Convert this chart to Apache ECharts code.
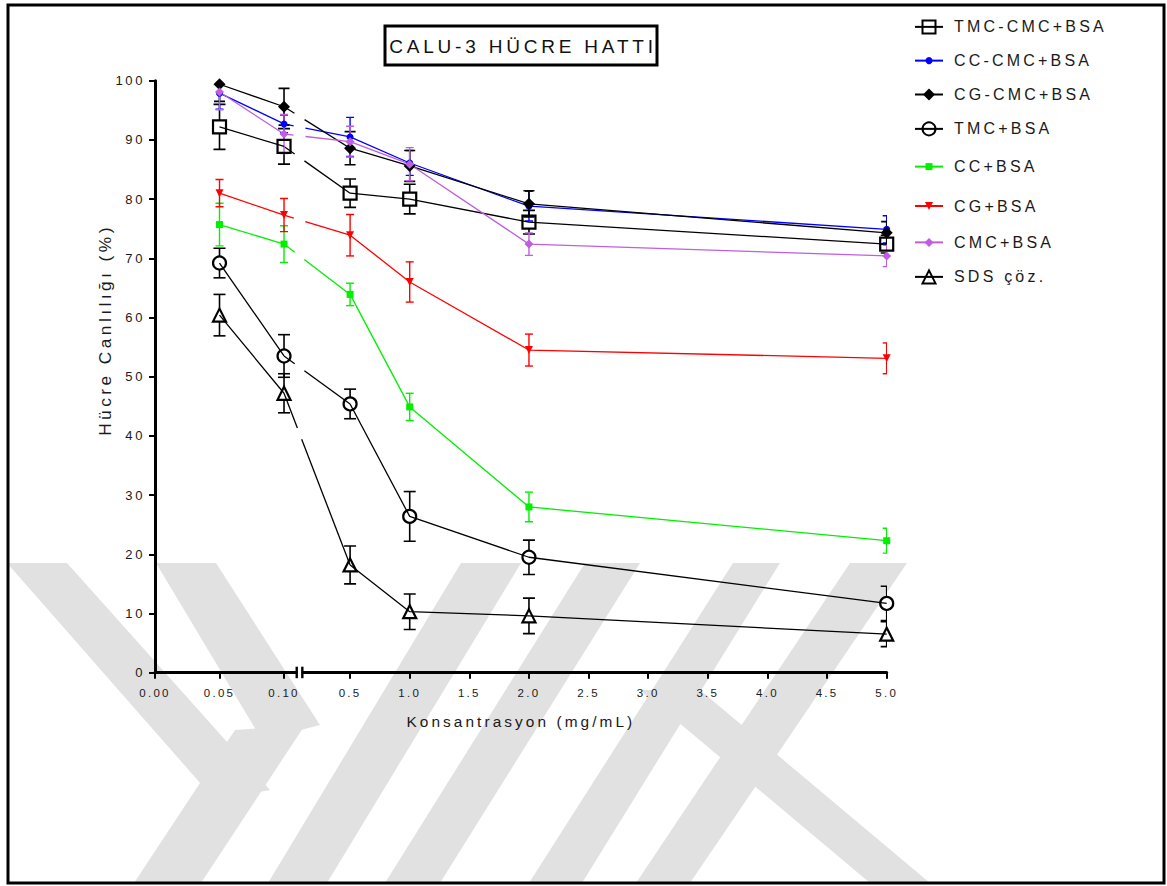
<!DOCTYPE html>
<html><head><meta charset="utf-8">
<script src="https://cdn.jsdelivr.net/npm/echarts@6/dist/echarts.min.js"></script>
<style>
html,body{margin:0;padding:0;background:#fff;}
#chart{width:1167px;height:886px;}
#chart svg text{letter-spacing:0.2em;}
</style></head><body><div id="chart"></div>
<script>
// ---- data ----
const concentrations = [0.05, 0.10, 0.5, 1.0, 2.0, 5.0];
const tickValues = [0, 0.05, 0.10, 0.5, 1.0, 1.5, 2.0, 2.5, 3.0, 3.5, 4.0, 4.5, 5.0];
const tickLabels = ['0.00','0.05','0.10','0.5','1.0','1.5','2.0','2.5','3.0','3.5','4.0','4.5','5.0'];
const seriesNames = ['TMC-CMC+BSA','CC-CMC+BSA','CG-CMC+BSA','TMC+BSA','CC+BSA','CG+BSA','CMC+BSA','SDS çöz.'];
const tmcCmcBsa   = [92.2, 88.9, 81.0, 80.0, 76.1, 72.4];
const tmcCmcBsaSd = [3.8, 3.0, 2.4, 2.5, 2.0, 1.5];
const ccCmcBsa    = [97.9, 92.7, 90.5, 86.1, 78.8, 74.9];
const ccCmcBsaSd  = [2.7, 1.5, 3.3, 2.1, 2.5, 2.3];
const cgCmcBsa    = [99.4, 95.6, 88.6, 85.6, 79.2, 74.3];
const cgCmcBsaSd  = [2.9, 3.1, 2.8, 2.6, 2.2, 1.9];
const tmcBsa      = [69.2, 53.5, 45.4, 26.4, 19.5, 11.7];
const tmcBsaSd    = [2.5, 3.6, 2.5, 4.2, 2.9, 2.9];
const ccBsa       = [75.7, 72.4, 63.9, 44.9, 28.0, 22.3];
const ccBsaSd     = [3.6, 3.1, 1.9, 2.3, 2.5, 2.1];
const cgBsa       = [81.0, 77.3, 73.9, 66.0, 54.5, 53.1];
const cgBsaSd     = [2.3, 2.8, 3.5, 3.4, 2.7, 2.6];
const cmcBsa      = [98.1, 91.0, 89.7, 85.9, 72.4, 70.4];
const cmcBsaSd    = [3.0, 3.3, 2.6, 2.8, 1.9, 1.8];
const sdsSol      = [60.4, 47.2, 18.2, 10.3, 9.6, 6.5];
const sdsSolSd    = [3.5, 3.3, 3.2, 3.0, 3.0, 2.1];

// ---- broken x scale (two segments with different spacing) ----
const SEG1_UNIT = 1.082;   // axis units per 0.05 in low segment
const SEG2_START = 3.272;  // axis position of 0.5
const BREAK_POS = 2.424;   // axis position of the break marks
function xPos(c){ return c <= 0.1 + 1e-9 ? c / 0.05 * SEG1_UNIT : SEG2_START + (c - 0.5) / 0.5; }
const X_MAX = xPos(5.0);
const LINE_GAP = 12;       // px gap in connecting lines at the break

// ---- styles ----
const styles = [
  {values: tmcCmcBsa, sd: tmcCmcBsaSd, color:'#000', symbol:'rect', size:13, fill:'rgba(0,0,0,0)', bw:2.2, rot:0, gap:6.5, cap:12, elw:1.6},
  {values: ccCmcBsa, sd: ccCmcBsaSd, color:'#0000ff', symbol:'circle', size:7, fill:'#0000ff', bw:0, rot:0, gap:0, cap:8, elw:1.4},
  {values: cgCmcBsa, sd: cgCmcBsaSd, color:'#000', symbol:'diamond', size:12, fill:'#000', bw:0, rot:0, gap:0, cap:11, elw:1.6},
  {values: tmcBsa, sd: tmcBsaSd, color:'#000', symbol:'circle', size:13, fill:'rgba(0,0,0,0)', bw:2.2, rot:0, gap:6.5, cap:12, elw:1.6},
  {values: ccBsa, sd: ccBsaSd, color:'#00f000', symbol:'rect', size:7, fill:'#00f000', bw:0, rot:0, gap:0, cap:8, elw:1.4},
  {values: cgBsa, sd: cgBsaSd, color:'#ff0000', symbol:'triangle', size:8, fill:'#ff0000', bw:0, rot:180, gap:0, cap:8, elw:1.4},
  {values: cmcBsa, sd: cmcBsaSd, color:'#bf5fe0', symbol:'diamond', size:9, fill:'#bf5fe0', bw:0, rot:0, gap:0, cap:8, elw:1.4},
  {values: sdsSol, sd: sdsSolSd, color:'#000', symbol:'triangle', size:13, fill:'rgba(0,0,0,0)', bw:2.2, rot:0, gap:6.5, cap:12, elw:1.6}
];
const legendCenters = [22, 52, 89, 124, 158, 198, 235, 272];

const chart = echarts.init(document.getElementById('chart'), null, {renderer:'svg'});
const FONT = 'Liberation Sans, Arial, sans-serif';
const TXT = '#1a1a1a';

const series = [];
styles.forEach((s, k) => {
  const pts = concentrations.map((c, i) => [xPos(c), s.values[i]]);
  // line broken at the axis break; the crossing is drawn by the bridge series
  const lineData = pts.slice(0, 2).concat([[BREAK_POS, '-']], pts.slice(2));
  series.push({
    name: seriesNames[k], type:'line', z: 3,
    data: lineData, connectNulls: false,
    symbol: s.symbol, symbolSize: s.size, symbolRotate: s.rot,
    showAllSymbol: true,
    lineStyle: {color: s.color, width: 1.3},
    itemStyle: {color: s.fill, borderColor: s.color, borderWidth: s.bw},
    emphasis: {disabled: true}, silent: true
  });
  series.push({
    name: 'bridge-' + k, type:'custom', z: 2, silent: true,
    data: [[pts[1][0], pts[1][1], pts[2][0], pts[2][1]]],
    encode: {x: [0, 2], y: [1, 3]},
    renderItem: (params, api) => {
      const a = api.coord([api.value(0), api.value(1)]);
      const b = api.coord([api.value(2), api.value(3)]);
      const bxp = api.coord([BREAK_POS, 0])[0];
      const t = (bxp - a[0]) / (b[0] - a[0]);
      const cx = a[0] + t * (b[0] - a[0]), cy = a[1] + t * (b[1] - a[1]);
      const len = Math.hypot(b[0] - a[0], b[1] - a[1]);
      const ux = (b[0] - a[0]) / len, uy = (b[1] - a[1]) / len, g = LINE_GAP / 2;
      const st = {stroke: s.color, lineWidth: 1.3};
      return {type:'group', children:[
        {type:'line', shape:{x1:a[0], y1:a[1], x2:cx - ux*g, y2:cy - uy*g}, style: st},
        {type:'line', shape:{x1:cx + ux*g, y1:cy + uy*g, x2:b[0], y2:b[1]}, style: st}
      ]};
    }
  });
  series.push({
    name: 'sd-' + k, type:'custom', z: 2, clip: true, silent: true,
    data: concentrations.map((c, i) => [xPos(c), s.values[i], s.sd[i]]),
    encode: {x: 0, y: 1},
    renderItem: (params, api) => {
      const x = api.value(0), y = api.value(1), e = api.value(2);
      const c = api.coord([x, y]);
      const t = api.coord([x, y + e]);
      const b = api.coord([x, y - e]);
      const hw = s.cap / 2;
      const st = {stroke: s.color, lineWidth: s.elw};
      return {type:'group', children: [
        {type:'line', shape:{x1:c[0], y1:c[1] - s.gap, x2:t[0], y2:t[1]}, style: st},
        {type:'line', shape:{x1:c[0], y1:c[1] + s.gap, x2:b[0], y2:b[1]}, style: st},
        {type:'line', shape:{x1:t[0]-hw, y1:t[1], x2:t[0]+hw, y2:t[1]}, style: st},
        {type:'line', shape:{x1:b[0]-hw, y1:b[1], x2:b[0]+hw, y2:b[1]}, style: st}
      ]};
    }
  });
});

const legends = styles.map((s, k) => {
  const ih = Math.max(8, s.size / 0.8);
  return {
    data: [seriesNames[k]], left: 909, top: legendCenters[k] - ih / 2,
    itemWidth: 28, itemHeight: ih, selectedMode: false,
    textStyle: {fontSize: 16, color: TXT, fontFamily: FONT, padding: [0, 0, 0, 6]}
  };
});

const wm = '#e1e1e1';
const watermark = [
  [[7,563],[67,563],[270,790],[215,800]],
  [[156,563],[216,563],[320,725],[262,740]],
  [[235,730],[305,725],[201,883],[134,883]],
  [[461,563],[521,563],[327,883],[268,883]],
  [[585,563],[640,563],[440,883],[385,883]],
  [[733,563],[780,563],[582,883],[529,883]],
  [[850,563],[907,563],[690,883],[636,883]],
  [[640,690],[700,690],[930,883],[870,883]]
].map((pts, i) => ({type:'polygon', id:'wm'+i, z:-10, silent:true, shape:{points: pts}, style:{fill: wm}}));

const option = {
  animation: false,
  backgroundColor: '#fff',
  textStyle: {fontFamily: FONT},
  grid: {left: 155, right: 1167 - 886.7, top: 80.7, bottom: 886 - 672.7, containLabel: false, outerBoundsMode: 'none'},
  xAxis: {
    type: 'value', min: 0, max: X_MAX,
    name: 'Konsantrasyon (mg/mL)', nameLocation: 'middle', nameGap: 41,
    nameTextStyle: {fontSize: 15.4, color: TXT, fontFamily: FONT},
    axisLine: {show: true, onZero: false, lineStyle: {color: '#000', width: 3}},
    axisTick: {show: true, length: 6, lineStyle: {color: '#000', width: 2}, customValues: tickValues.map(xPos)},
    axisLabel: {
      customValues: tickValues.map(xPos), margin: 14, fontSize: 11.5, color: TXT, fontFamily: FONT,
      showMinLabel: true, showMaxLabel: true,
      formatter: v => { let best = 0; tickValues.forEach((t, i) => { if (Math.abs(xPos(t) - v) < Math.abs(xPos(tickValues[best]) - v)) best = i; }); return tickLabels[best]; }
    },
    splitLine: {show: false}
  },
  yAxis: {
    type: 'value', min: 0, max: 100, interval: 10,
    axisLine: {show: true, onZero: false, lineStyle: {color: '#000', width: 3}},
    axisTick: {show: true, length: 6, lineStyle: {color: '#000', width: 2}},
    axisLabel: {margin: 10, fontSize: 13, color: TXT, fontFamily: FONT},
    splitLine: {show: false}
  },
  legend: legends,
  series: series,
  graphic: {elements: watermark.concat([
    {type:'rect', id:'frame', z:50, silent:true, shape:{x:8, y:5, width:1156, height:878}, style:{fill:'none', stroke:'#000', lineWidth:3}},
    {type:'rect', id:'titlebox', z:50, silent:true, shape:{x:385, y:26, width:272, height:39}, style:{fill:'#fff', stroke:'#000', lineWidth:3}},
    {type:'text', id:'title', z:51, silent:true, x:523, y:46, style:{text:'CALU-3 HÜCRE HATTI', fontSize:19, fill:'#111', fontFamily:FONT, align:'center', verticalAlign:'middle'}},
    {type:'text', id:'yname', z:51, silent:true, x:105, y:330, rotation: Math.PI/2, style:{text:'Hücre Canlılığı (%)', fontSize:17.3, fill:TXT, fontFamily:FONT, align:'center', verticalAlign:'middle'}}
  ])}
};
chart.setOption(option);

// axis break decoration, placed through the axis scale
const bx = chart.convertToPixel({xAxisIndex: 0}, BREAK_POS);
const by0 = chart.convertToPixel({yAxisIndex: 0}, 0);
chart.setOption({graphic: {elements: [
  {type:'rect', id:'axisgap', z:60, silent:true, shape:{x:bx - 2.2, y:by0 - 4, width:4.4, height:8}, style:{fill:'#fff'}},
  {type:'line', id:'brk1', z:61, silent:true, shape:{x1:bx - 2.8, y1:by0 - 6, x2:bx - 2.8, y2:by0 + 5.5}, style:{stroke:'#000', lineWidth:2.4}},
  {type:'line', id:'brk2', z:61, silent:true, shape:{x1:bx + 2.8, y1:by0 - 6, x2:bx + 2.8, y2:by0 + 5.5}, style:{stroke:'#000', lineWidth:2.4}}
]}});
</script></body></html>
